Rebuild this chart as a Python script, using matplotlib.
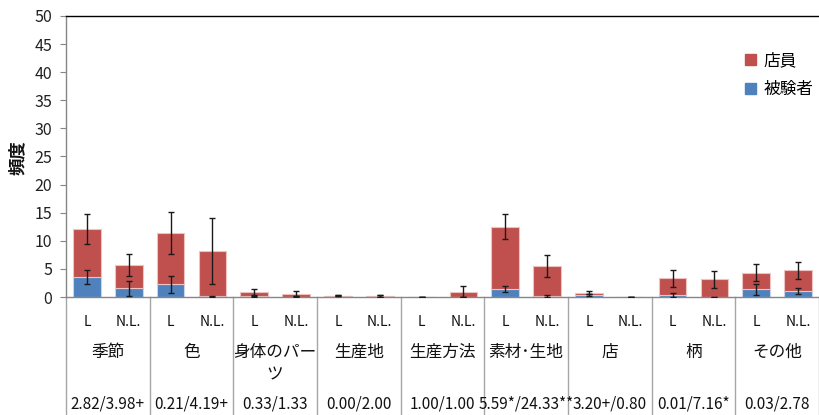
import matplotlib
matplotlib.use("Agg")
import matplotlib.pyplot as plt
import matplotlib.transforms as mtransforms
from matplotlib.patches import Patch
import numpy as np

plt.rcParams['font.family'] = ['Noto Sans CJK JP', 'DejaVu Sans']

categories = ['季節', '色', '身体のパー\nツ', '生産地', '生産方法', '素材･生地', '店', '柄', 'その他']
stats = ['2.82/3.98+', '0.21/4.19+', '0.33/1.33', '0.00/2.00', '1.00/1.00',
         '5.59*/24.33**', '3.20+/0.80', '0.01/7.16*', '0.03/2.78']
sub_labels = ['L', 'N.L.']

# 被験者 (bottom segment), per bar: L, N.L. for each category
subject_vals = [3.56, 1.53, 2.25, 0.10, 0.10, 0.05, 0.20, 0.17, 0.00, 0.00,
                1.47, 0.20, 0.40, 0.00, 0.36, 0.00, 1.35, 1.12]
subject_err = [1.27, 1.40, 1.50, 0.15, 0.15, 0.10, 0.10, 0.10, 0.00, 0.00,
               0.50, 0.15, 0.20, 0.00, 0.36, 0.00, 0.97, 0.55]
# 店員 (top segment)
clerk_vals = [8.54, 4.16, 9.14, 8.08, 0.84, 0.55, 0.00, 0.00, 0.00, 0.94,
              11.03, 5.30, 0.32, 0.00, 2.94, 3.13, 2.97, 3.62]
clerk_err = [2.65, 2.00, 3.65, 5.90, 0.50, 0.40, 0.10, 0.10, 0.05, 0.95,
             2.20, 1.90, 0.27, 0.03, 1.50, 1.57, 1.54, 1.47]

red = '#C0504D'
blue = '#4F81BD'

W, H = 819, 415
fig = plt.figure(figsize=(W / 100, H / 100), dpi=100)
ax = fig.add_axes([66 / W, (H - 297) / H, 1 - 66 / W, (297 - 16) / H])

n = len(subject_vals)
x = np.arange(n)
sv = np.array(subject_vals)
cv = np.array(clerk_vals)

ax.bar(x, sv, width=0.66, color=blue, edgecolor='#C6D5EA', linewidth=0.8, zorder=2)
ax.bar(x, cv, width=0.66, bottom=sv, color=red, edgecolor='#EDC2C1', linewidth=0.8, zorder=2)
ax.errorbar(x, sv + cv, yerr=clerk_err, fmt='none', ecolor='#1a1a1a', elinewidth=1,
            capsize=2.2, capthick=1, zorder=3)
ax.errorbar(x, sv, yerr=subject_err, fmt='none', ecolor='#1a1a1a', elinewidth=1,
            capsize=2.2, capthick=1, zorder=3)

ax.set_xlim(-0.5, n - 0.5)
ax.set_ylim(0, 50)
ax.set_yticks(np.arange(0, 51, 5))
ax.tick_params(axis='y', length=4, color='#868686', labelsize=11.5, labelcolor='#222222', pad=6)
ax.set_xticks([])
for s in ['left', 'bottom']:
    ax.spines[s].set_color('#868686')
    ax.spines[s].set_linewidth(1)
ax.spines['top'].set_color('black')
ax.spines['top'].set_linewidth(1)
ax.spines['right'].set_visible(False)

fig.text(18 / W, 1 - 158 / H, '頻度', rotation=90, ha='center', va='center',
         fontsize=12.5, fontweight='bold', color='#111111')

# dividers below axis
trans = mtransforms.blended_transform_factory(ax.transData, ax.transAxes)
bottom_ax = -(H - 297) / (297 - 16)
for k in range(len(categories) + 1):
    xd = -0.5 + 2 * k
    ax.plot([xd, xd], [0, bottom_ax], transform=trans, color='#A6A6A6', lw=1, clip_on=False)

ftrans = mtransforms.blended_transform_factory(ax.transData, fig.transFigure)
for i in range(n):
    ax.text(x[i], 1 - 322 / H, sub_labels[i % 2], transform=ftrans, ha='center', va='center',
            fontsize=10, color='#111111')
for j, cat in enumerate(categories):
    cx = 2 * j + 0.5
    ax.text(cx, 1 - 344 / H, cat, transform=ftrans, ha='center', va='top',
            fontsize=12, color='#111111', linespacing=1.4)
    ax.text(cx, 1 - 404 / H, stats[j], transform=ftrans, ha='center', va='center',
            fontsize=11, color='#111111')

handles = [Patch(facecolor=red, edgecolor=red, label='店員'),
           Patch(facecolor=blue, edgecolor=blue, label='被験者')]
fig.legend(handles=handles, loc='upper left', bbox_to_anchor=(737 / W, 1 - 44 / H),
           frameon=False, fontsize=12, handlelength=0.65, handleheight=0.65,
           handletextpad=0.45, labelspacing=0.7, borderpad=0)

fig.savefig('out.png', dpi=100)
